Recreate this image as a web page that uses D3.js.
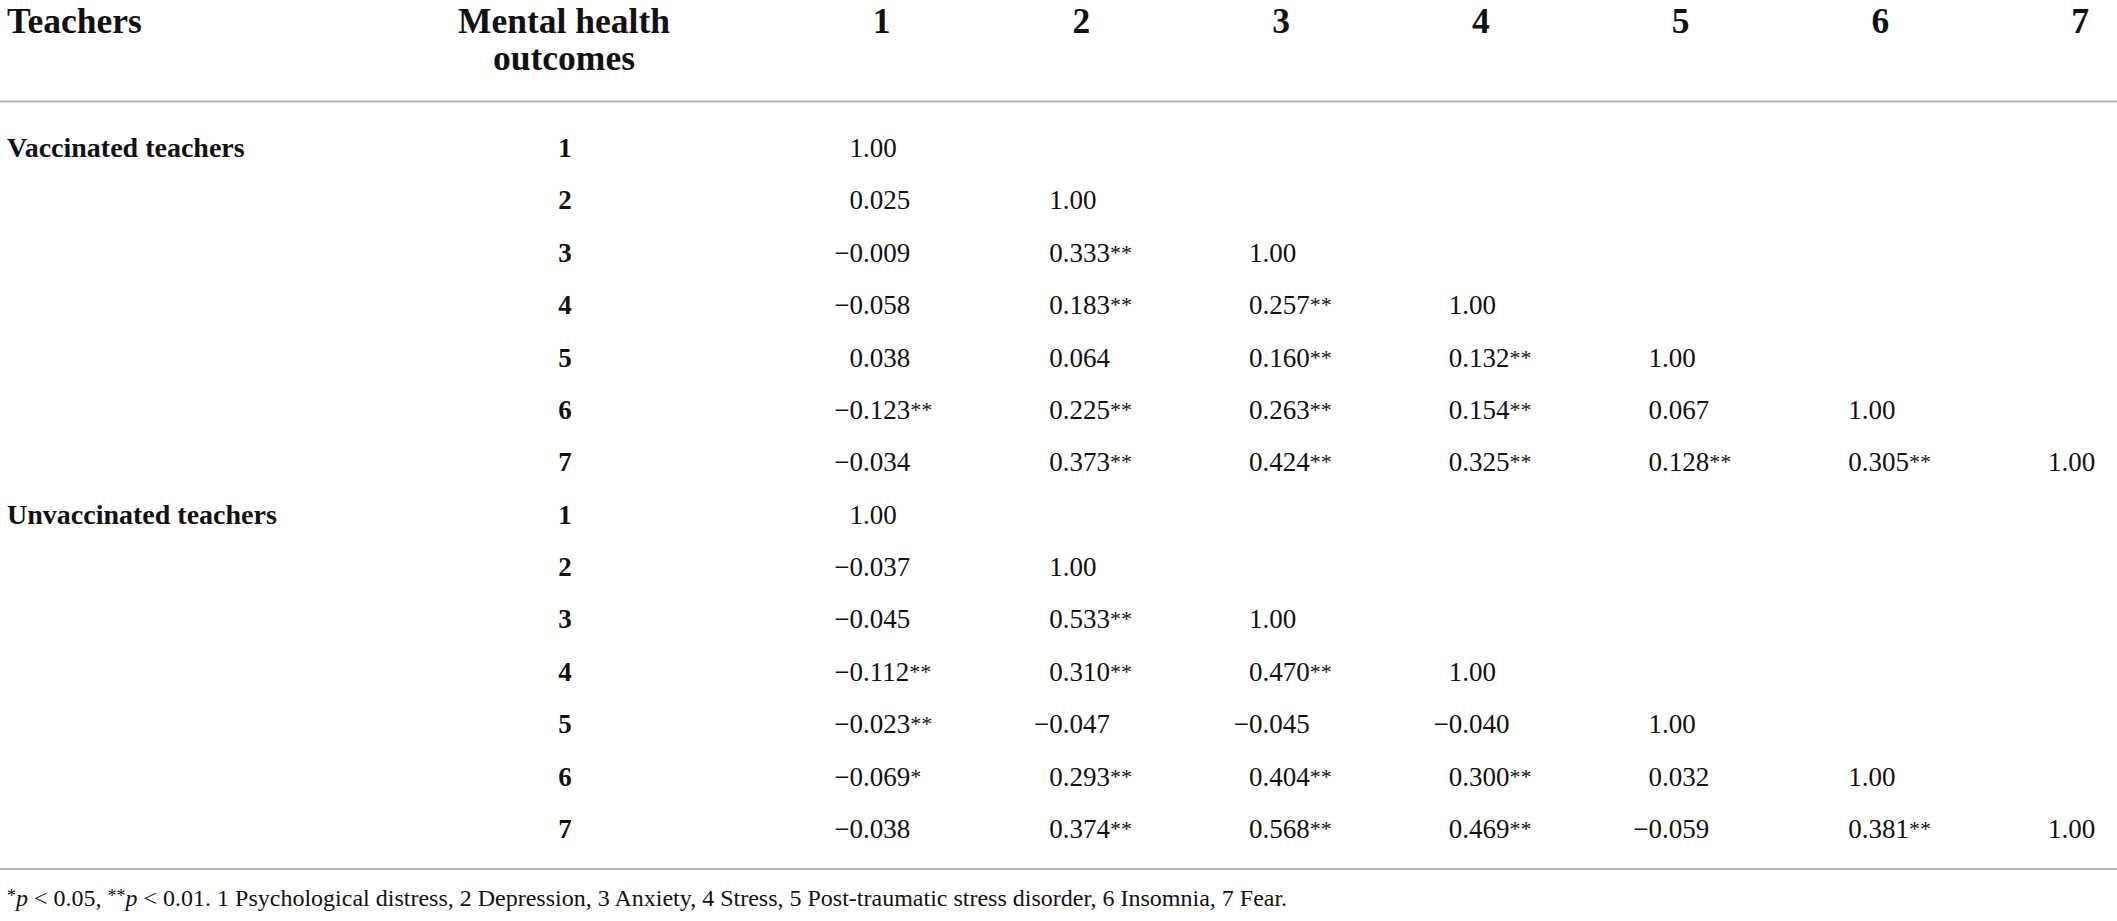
<!DOCTYPE html>
<html>
<head>
<meta charset="utf-8">
<script src="https://cdn.jsdelivr.net/npm/d3@7"></script>
<style>
  body { margin: 0; background: #fff; }
  text { font-family: "Liberation Serif", "Times New Roman", serif; fill: #111; }
</style>
</head>
<body>
<div id="table"></div>
<script>
const width = 2117;
const height = 921;

// outcomes 1..7 (rows and columns)
const outcomes = ["1", "2", "3", "4", "5", "6", "7"];
const groups = ["Vaccinated teachers", "Unvaccinated teachers"];

// lower triangle, off-diagonal values only (diagonal is 1.00)
const vaccinatedR = [
  [],
  [0.025],
  [-0.009, 0.333],
  [-0.058, 0.183, 0.257],
  [0.038, 0.064, 0.160, 0.132],
  [-0.123, 0.225, 0.263, 0.154, 0.067],
  [-0.034, 0.373, 0.424, 0.325, 0.128, 0.305]
];
const vaccinatedSig = [
  [],
  [""],
  ["", "**"],
  ["", "**", "**"],
  ["", "", "**", "**"],
  ["**", "**", "**", "**", ""],
  ["", "**", "**", "**", "**", "**"]
];
const unvaccinatedR = [
  [],
  [-0.037],
  [-0.045, 0.533],
  [-0.112, 0.310, 0.470],
  [-0.023, -0.047, -0.045, -0.040],
  [-0.069, 0.293, 0.404, 0.300, 0.032],
  [-0.038, 0.374, 0.568, 0.469, -0.059, 0.381]
];
const unvaccinatedSig = [
  [],
  [""],
  ["", "**"],
  ["**", "**", "**"],
  ["**", "", "", ""],
  ["*", "**", "**", "**", ""],
  ["", "**", "**", "**", "", "**"]
];

const footParts = [
  {t: "*", sup: true}, {t: "p", it: true}, {t: " < 0.05, "},
  {t: "**", sup: true}, {t: "p", it: true},
  {t: " < 0.01. 1 Psychological distress, 2 Depression, 3 Anxiety, 4 Stress, 5 Post-traumatic stress disorder, 6 Insomnia, 7 Fear."}
];

const svg = d3.select("#table").append("svg")
  .attr("width", width)
  .attr("height", height);

// column scale: x of first digit of each value column
const x = d3.scalePoint().domain(outcomes).range([849.5, 2048]);
const zeroW = 13.5;   // width of a "0" at the body size

// row scale: 14 body rows
const rowKeys = d3.range(groups.length * outcomes.length);
const y = d3.scalePoint().domain(rowKeys).range([157, 838]);

const fmt3 = d3.format(".3f");

// header
svg.append("text").attr("x", 7).attr("y", 33)
  .style("font-size", "35.5px").style("font-weight", "bold").text("Teachers");
svg.append("text").attr("x", 564).attr("y", 33).attr("text-anchor", "middle")
  .style("font-size", "35.5px").style("font-weight", "bold").text("Mental health");
svg.append("text").attr("x", 564).attr("y", 70).attr("text-anchor", "middle")
  .style("font-size", "35.5px").style("font-weight", "bold").text("outcomes");
svg.selectAll(".colhead")
  .data(outcomes)
  .enter()
  .append("text")
  .attr("class", "colhead")
  .attr("x", d => x(d) + 32)
  .attr("y", 33)
  .attr("text-anchor", "middle")
  .style("font-size", "35.5px")
  .style("font-weight", "bold")
  .text(d => d);

// rules
svg.append("line").attr("x1", 0).attr("x2", width).attr("y1", 101.5).attr("y2", 101.5)
  .attr("stroke", "#b4b4b4").attr("stroke-width", 2);
svg.append("line").attr("x1", 0).attr("x2", width).attr("y1", 869).attr("y2", 869)
  .attr("stroke", "#b4b4b4").attr("stroke-width", 2);

// body cells
const cells = [];
[vaccinatedR, unvaccinatedR].forEach((mat, g) => {
  const sig = g === 0 ? vaccinatedSig : unvaccinatedSig;
  outcomes.forEach((o, r) => {
    const row = g * outcomes.length + r;
    mat[r].forEach((v, c) => {
      cells.push({row: row, col: outcomes[c], text: fmt3(v), sig: sig[r][c]});
    });
    cells.push({row: row, col: o, text: "1.00", sig: ""});
  });
});

svg.selectAll(".group")
  .data(groups)
  .enter()
  .append("text")
  .attr("class", "group")
  .attr("x", 7)
  .attr("y", (d, i) => y(i * outcomes.length))
  .style("font-size", "28px")
  .style("font-weight", "bold")
  .text(d => d);

svg.selectAll(".rowlab")
  .data(rowKeys)
  .enter()
  .append("text")
  .attr("class", "rowlab")
  .attr("x", 565)
  .attr("y", d => y(d))
  .attr("text-anchor", "middle")
  .style("font-size", "27px")
  .style("font-weight", "bold")
  .text(d => outcomes[d % outcomes.length]);

const cellG = svg.selectAll(".cell")
  .data(cells)
  .enter()
  .append("g")
  .attr("class", "cell")
  .attr("transform", d => `translate(${x(d.col) + zeroW},${y(d.row)})`);

// integer part right-aligned to the decimal point
cellG.append("text")
  .attr("text-anchor", "end")
  .style("font-size", "27px")
  .text(d => d.text.split(".")[0]);

const frac = cellG.append("text")
  .attr("text-anchor", "start")
  .style("font-size", "27px");
frac.append("tspan").text(d => "." + d.text.split(".")[1]);
frac.append("tspan")
  .attr("dy", -2)
  .style("font-size", "22px")
  .text(d => d.sig);

// footnote
const foot = svg.append("text").attr("x", 7).attr("y", 906).style("font-size", "24px");
foot.selectAll("tspan")
  .data(footParts)
  .enter()
  .append("tspan")
  .style("font-style", d => d.it ? "italic" : null)
  .style("font-size", d => d.sup ? "18px" : null)
  .attr("dy", (d, i) => {
    if (d.sup) return -4;
    if (i > 0 && footParts[i - 1].sup) return 4;
    return 0;
  })
  .text(d => d.t);
</script>
</body>
</html>
